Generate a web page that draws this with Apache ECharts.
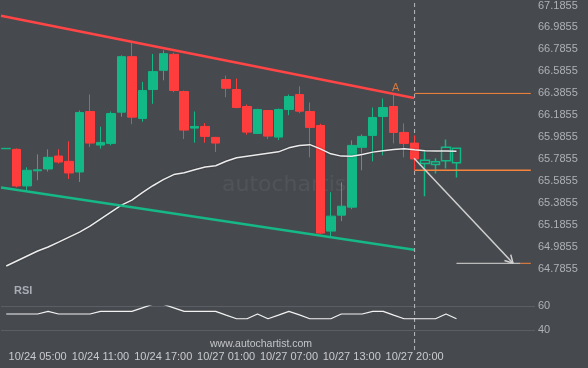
<!DOCTYPE html>
<html>
<head>
<meta charset="utf-8">
<script src="https://cdn.jsdelivr.net/npm/echarts@6/dist/echarts.min.js"></script>
<style>
html,body{margin:0;padding:0;background:#46494e;}
#c{width:588px;height:368px;}
</style>
</head>
<body>
<div id="c"></div>
<script>
// ---------- data ----------
const categories = [
  '10/24 02:00','10/24 03:00','10/24 04:00','10/24 05:00','10/24 06:00','10/24 07:00',
  '10/24 08:00','10/24 09:00','10/24 10:00','10/24 11:00','10/24 12:00','10/24 13:00',
  '10/24 14:00','10/24 15:00','10/24 16:00','10/24 17:00','10/24 18:00','10/24 19:00',
  '10/24 20:00','10/24 21:00','10/24 22:00','10/27 01:00','10/27 02:00','10/27 03:00',
  '10/27 04:00','10/27 05:00','10/27 06:00','10/27 07:00','10/27 08:00','10/27 09:00',
  '10/27 10:00','10/27 11:00','10/27 12:00','10/27 13:00','10/27 14:00','10/27 15:00',
  '10/27 16:00','10/27 18:00','10/27 19:00','10/27 20:00','10/27 21:00','10/27 22:00',
  '10/27 23:00','10/28 00:00','','','','','','',''
];
// [open, close, low, high]
const candles = [
  [65.882,65.886,65.880,65.888],
  [65.8767,65.5438,65.5320,65.8857],
  [65.5438,65.6862,65.4957,65.7134],
  [65.6816,65.6907,65.5955,65.8313],
  [65.6980,65.8041,65.6744,65.8767],
  [65.8159,65.7615,65.7470,65.8767],
  [65.7678,65.6617,65.6073,65.9492],
  [65.6708,66.2123,65.5801,66.2304],
  [66.2213,65.9338,65.8975,66.3755],
  [65.9157,65.9402,65.8830,66.0826],
  [65.9311,66.2032,65.9129,66.2213],
  [66.2150,66.7202,66.1733,66.7320],
  [66.7202,66.1696,66.1061,66.8499],
  [66.1578,66.4118,66.1279,66.4907],
  [66.4209,66.5841,66.2912,66.7447],
  [66.5959,66.7474,66.5052,66.7773],
  [66.7411,66.4118,66.3964,66.7565],
  [66.4027,66.0517,65.9701,66.4118],
  [66.0699,66.0853,65.9374,66.2213],
  [66.0853,65.9946,65.9374,66.1152],
  [65.9855,65.9338,65.8522,65.9900],
  [66.5116,66.4327,66.3510,66.5479],
  [66.4209,66.2576,66.2513,66.5207],
  [66.2667,66.0336,66.0100,66.2848],
  [66.0218,66.2395,66.0154,66.2458],
  [66.2304,65.9973,65.9701,66.2304],
  [65.9882,66.2395,65.9610,66.2485],
  [66.2395,66.3574,66.1878,66.3755],
  [66.3755,66.2241,66.2059,66.4508],
  [66.2213,66.0762,65.8041,66.3030],
  [66.0943,65.1148,65.1057,66.1098],
  [65.1329,65.2690,65.0875,65.4866],
  [65.2780,65.3597,65.2236,65.5773],
  [65.3506,65.9129,65.3324,65.9583],
  [65.8948,65.9946,65.6862,66.0127],
  [66.0036,66.1669,65.7678,66.2576],
  [66.1760,66.2576,65.8222,66.3392],
  [66.2667,66.0309,65.9311,66.3755],
  [66.0309,65.9311,65.8041,66.1125],
  [65.9338,65.7887,65.6862,66.0036]
];
// candles after the pattern (drawn hollow)
const forecastCandles = [
  [65.7769,65.7470,65.4504,65.8585],
  [65.7379,65.7651,65.6563,65.7950],
  [65.7742,65.8948,65.7016,65.9674],
  [65.8857,65.7560,65.6200,65.8857]
];
const movingAverage = [
  64.8156,64.8610,64.9063,64.9517,64.9880,65.0333,65.0787,65.1240,65.1784,65.2419,
  65.3054,65.3689,65.4143,65.4823,65.5458,65.6020,65.6474,65.6637,65.6909,65.7154,
  65.7272,65.7680,65.7998,65.8134,65.8270,65.8406,65.8542,65.8905,65.9113,65.9195,
  65.8814,65.8361,65.8152,65.8134,65.8297,65.8515,65.8651,65.8751,65.8832,65.8723,
  65.8633,65.8615,65.8615,65.8606
];
const rsiValues = [
  53.4,53.4,53.4,53.4,55.6,53.4,53.4,53.4,53.4,55.6,
  55.6,55.6,55.6,58.5,61.4,61.4,58.5,55.6,55.6,55.6,
  55.6,52.5,49.5,49.5,53.4,49.5,52.5,55.6,52.7,49.5,
  49.5,49.5,53.4,53.4,53.4,55.6,55.6,52.5,49.5,49.5,
  49.5,49.5,53.4,49.5
];
const yMin = 64.7855, yMax = 67.1855, yStep = 0.2;
const rsiMin = 40, rsiMax = 60, rsiStep = 20;
// pattern lines: [x (category position), value]
const resistanceLine = [[-0.5,67.093],[38.95,66.344]];
const supportLine = [[-0.5,65.530],[38.95,64.964]];
const levelA = [[39,66.3855],[50.1,66.3855]];
const levelEntry = [[39,65.686],[50.1,65.686]];
const levelTarget = [[43,64.840],[49.1,64.840]];
const levelTargetTick = [[49.1,64.840],[50.1,64.840]];
const arrowPath = [[38.95,65.795],[48.4,64.840]];
const pointA = [37.2,66.4345];
const patternEnd = 39;

// ---------- chart ----------
const GRID_LEFT = 1, GRID_W = 534;
const MAIN_TOP = 4.7, MAIN_H = 264.6;
const N = categories.length;

const RED = '#ff3d3d', GREEN = '#12b886', ORANGE = '#f5843c';

// arrow chevron computed in data space from axis scales
const pxX = GRID_W / N, pxY = MAIN_H / (yMax - yMin);
function chevron(p0, p1, len, ang) {
  const dx = (p1[0]-p0[0])*pxX, dy = -(p1[1]-p0[1])*pxY;
  const a = Math.atan2(dy, dx);
  const pts = [];
  [a + Math.PI - ang, a + Math.PI + ang].forEach(t => {
    pts.push([p1[0] + Math.cos(t)*len/pxX, p1[1] - Math.sin(t)*len/pxY]);
  });
  return [pts[0], p1, pts[1]];
}

const hollowData = new Array(candles.length).fill(null).map(() => ['-','-','-','-'])
  .concat(forecastCandles.map(v => ({
    value: v,
    itemStyle: {color: 'transparent', color0: 'transparent', borderColor: GREEN, borderColor0: RED, borderWidth: 1.5}
  })));

const labelFont = 'Liberation Sans, Arial, sans-serif';
const priceLabel = v => (yMin + Math.round((v - yMin) / yStep) * yStep).toFixed(4);

const chart = echarts.init(document.getElementById('c'), null, {renderer: 'canvas'});
chart.setOption({
  backgroundColor: '#46494e',
  animation: false,
  title: {
    text: 'RSI', left: 14, top: 285, padding: 0,
    textStyle: {fontSize: 11, fontWeight: 'bold', color: '#a9adb3', fontFamily: labelFont}
  },
  graphic: [
    {type: 'text', left: 222, top: 174, silent: true,
     style: {text: 'autochartist', fontSize: 22, fontFamily: 'DejaVu Sans, sans-serif', fill: 'rgba(255,255,255,0.06)'}},
    {type: 'text', left: 210, top: 339, silent: true,
     style: {text: 'www.autochartist.com', fontSize: 10.5, fontFamily: labelFont, fill: '#c4c6c9'}}
  ],
  grid: [
    {left: GRID_LEFT, width: GRID_W, top: MAIN_TOP, height: MAIN_H},
    {left: GRID_LEFT, width: GRID_W, top: 306, height: 24.3},
    {left: GRID_LEFT, width: GRID_W, top: 0, height: 350}
  ],
  xAxis: [
    {type: 'category', gridIndex: 0, data: categories, show: false, boundaryGap: true},
    {type: 'value', gridIndex: 0, min: -0.5, max: N - 0.5, show: false},
    {type: 'category', gridIndex: 1, data: categories, boundaryGap: true,
     axisLine: {show: false}, axisTick: {show: false}, splitLine: {show: false},
     axisLabel: {
       interval: (i, v) => v !== '' && i % 6 === 3,
       color: '#c9cbce', fontSize: 11, fontFamily: labelFont, margin: 21
     }},
    {type: 'value', gridIndex: 2, min: -0.5, max: N - 0.5, show: false}
  ],
  yAxis: [
    {type: 'value', gridIndex: 0, position: 'right', min: yMin, max: yMax, interval: yStep,
     axisLine: {show: false}, axisTick: {show: false}, splitLine: {show: false},
     axisLabel: {formatter: priceLabel, color: '#aeb1b5', fontSize: 11, fontFamily: labelFont, margin: 3}},
    {type: 'value', gridIndex: 1, position: 'right', min: rsiMin, max: rsiMax, interval: rsiStep,
     axisLine: {show: false}, axisTick: {show: false},
     splitLine: {show: true, lineStyle: {color: '#5b5f65', width: 1}},
     axisLabel: {color: '#aeb1b5', fontSize: 11, fontFamily: labelFont, margin: 3}},
    {type: 'value', gridIndex: 2, min: 0, max: 1, show: false}
  ],
  series: [
    {type: 'line', xAxisIndex: 3, yAxisIndex: 2, data: [[patternEnd, 0], [patternEnd, 1]],
     showSymbol: false, silent: true, z: 1,
     lineStyle: {color: '#b9bbbe', width: 1, type: [4, 3]}},
    {type: 'candlestick', xAxisIndex: 0, yAxisIndex: 0, data: candles, barWidth: 9, z: 2,
     itemStyle: {color: GREEN, color0: RED, borderColor: GREEN, borderColor0: RED, borderWidth: 1}},
    {type: 'candlestick', xAxisIndex: 0, yAxisIndex: 0, data: hollowData, barWidth: 9, z: 2,
     itemStyle: {color: 'transparent', color0: 'transparent', borderColor: GREEN, borderColor0: RED, borderWidth: 1.5}},
    {type: 'line', xAxisIndex: 0, yAxisIndex: 0, data: movingAverage, showSymbol: false, z: 3,
     lineStyle: {color: '#ececec', width: 1.5, shadowColor: 'rgba(0,0,0,0.35)', shadowBlur: 2}},
    {type: 'line', xAxisIndex: 1, yAxisIndex: 0, data: resistanceLine, showSymbol: false, z: 4,
     lineStyle: {color: '#ff4545', width: 2.5}},
    {type: 'line', xAxisIndex: 1, yAxisIndex: 0, data: supportLine, showSymbol: false, z: 4,
     lineStyle: {color: '#15b886', width: 2.5}},
    {type: 'line', xAxisIndex: 1, yAxisIndex: 0, data: levelA, showSymbol: false, z: 4,
     lineStyle: {color: ORANGE, width: 1}},
    {type: 'line', xAxisIndex: 1, yAxisIndex: 0, data: levelEntry, showSymbol: false, z: 4,
     lineStyle: {color: ORANGE, width: 1.5}},
    {type: 'line', xAxisIndex: 1, yAxisIndex: 0, data: levelTarget, showSymbol: false, z: 4,
     lineStyle: {color: '#d9d9d9', width: 1}},
    {type: 'line', xAxisIndex: 1, yAxisIndex: 0, data: levelTargetTick, showSymbol: false, z: 4,
     lineStyle: {color: ORANGE, width: 1}},
    {type: 'line', xAxisIndex: 1, yAxisIndex: 0, data: arrowPath, showSymbol: false, z: 5,
     lineStyle: {color: '#d0d0d0', width: 1.5}},
    {type: 'line', xAxisIndex: 1, yAxisIndex: 0, data: chevron(arrowPath[0], arrowPath[1], 9, 0.5),
     showSymbol: false, z: 5, lineStyle: {color: '#d0d0d0', width: 1.5}},
    {type: 'scatter', xAxisIndex: 1, yAxisIndex: 0, data: [pointA], symbolSize: 0, z: 6,
     label: {show: true, position: 'inside', formatter: 'A', color: ORANGE, fontSize: 11, fontFamily: labelFont}},
    {type: 'line', xAxisIndex: 2, yAxisIndex: 1, data: rsiValues, showSymbol: false, z: 3,
     lineStyle: {color: '#f2f2f2', width: 1.2}}
  ]
});
</script>
</body>
</html>
